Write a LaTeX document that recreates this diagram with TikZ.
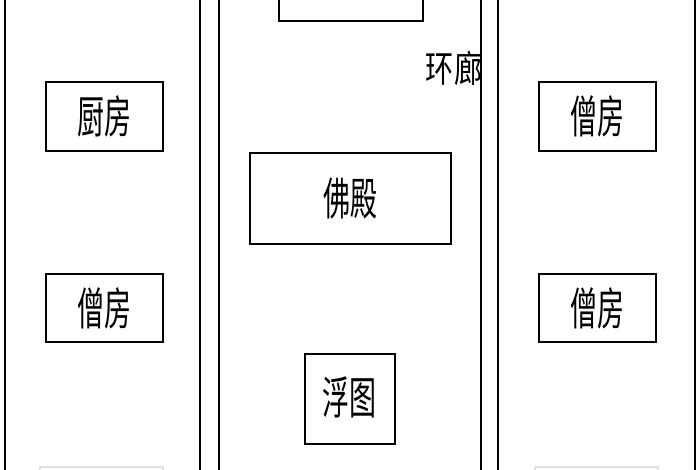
\documentclass[tikz,border=0pt]{standalone}
\usepackage{fontspec}
\newfontfamily\cjk[FakeStretch=0.6]{Noto Sans CJK SC}
\newfontfamily\cjkb[FakeStretch=0.76]{Noto Sans CJK SC}
\begin{document}
\begin{tikzpicture}[x=1pt,y=-1pt,
  room/.style={draw=black,line width=1.8pt,inner sep=0pt,anchor=north west},
  lbl/.style={font=\cjk\fontsize{45}{45}\selectfont,inner sep=0pt},
  col/.style={draw=black,line width=1.8pt},
  ghost/.style={draw=black!12,line width=1.2pt}]
\useasboundingbox (0,0) rectangle (700,470);
\clip (0,0) rectangle (700,470);
% columns
\draw[col] (5,-10) coordinate (lt) -- (5,480) coordinate (lb);
\draw[col] (200,-10) -- (200,480);
\draw[col] (219,-10) -- (219,480);
\draw[col] (481,-10) -- (481,480);
\draw[col] (498,-10) -- (498,480);
\draw[col] (695,-10) -- (695,480);
% rooms
\node[room,minimum width=144pt,minimum height=40pt] (top) at (278,-20) {};
\node[room,minimum width=117pt,minimum height=69pt] (chu) at (45,81) {};
\node[lbl] at (chu.center) {厨房};
\node[room,minimum width=117pt,minimum height=68pt] (seng1) at (45,273) {};
\node[lbl] at (seng1.center) {僧房};
\node[room,minimum width=117pt,minimum height=69pt] (seng2) at (538,81) {};
\node[lbl] at (seng2.center) {僧房};
\node[room,minimum width=117pt,minimum height=68pt] (seng3) at (538,273) {};
\node[lbl] at (seng3.center) {僧房};
\node[room,minimum width=201pt,minimum height=91pt] (fo) at (249,152) {};
\node[lbl] at (fo.center) {佛殿};
\node[room,minimum width=90pt,minimum height=90pt] (fu) at (304,353) {};
\node[lbl] at ([yshift=2pt]fu.center) {浮图};
% ghost box tops at bottom edge
\draw[ghost] (40,480) -- (40,467) -- (163,467) -- (163,480);
\draw[ghost] (535,480) -- (535,467) -- (658,467) -- (658,480);
% corridor label
\node[font=\cjkb\fontsize{37}{37}\selectfont,inner sep=0pt] (huan) at (454,68) {环廊};
\end{tikzpicture}
\end{document}
